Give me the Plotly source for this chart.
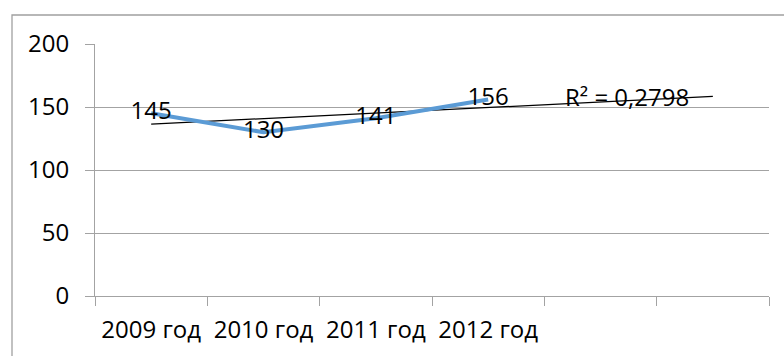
import numpy as np
import plotly.graph_objects as go

categories = ["2009 год", "2010 год", "2011 год", "2012 год"]
n_slots = 6  # category slots on the axis (two trailing empty slots)
values = [145, 130, 141, 156]
y_ticks = [0, 50, 100, 150, 200]

idx = np.arange(1, len(values) + 1)
slope, intercept = np.polyfit(idx, values, 1)
trend_idx = np.arange(1, n_slots + 1)
trend_y = slope * trend_idx + intercept
pred = slope * idx + intercept
r2 = 1 - np.sum((np.array(values) - pred) ** 2) / np.sum((np.array(values) - np.mean(values)) ** 2)
r2_text = "R² = " + f"{r2:.4f}".replace(".", ",")

FONT = "Open Sans"
FS = 24
GRID = "#A3A3A3"

fig = go.Figure()
fig.add_trace(go.Scatter(
    x=trend_idx, y=trend_y, mode="lines",
    line=dict(color="black", width=1.2), hoverinfo="skip", showlegend=False,
))
fig.add_trace(go.Scatter(
    x=idx, y=values, mode="lines+text",
    line=dict(color="#5B9BD5", width=4),
    text=[str(v) for v in values], textposition="middle center",
    textfont=dict(family=FONT, size=FS, color="black"),
    showlegend=False,
))
fig.add_annotation(
    x=5.24, y=158, xref="x", yref="y", text=r2_text, showarrow=False,
    font=dict(family=FONT, size=FS, color="black"), xanchor="center", yanchor="middle",
)

L, R, T, B = 95, 15, 44, 60
W, H = 784, 356
pw, ph = W - L - R, H - T - B
x0 = (12 - L) / pw
y1 = (H - B - 15) / ph
x1 = (W + 10 - L) / pw
y0 = -(B + 10) / ph
fig.add_shape(type="path", xref="paper", yref="paper",
              path=f"M {x0} {y0} L {x0} {y1} L {x1} {y1}",
              line=dict(color="#A0A0A0", width=1.3))

fig.update_layout(
    width=W, height=H, margin=dict(l=L, r=R, t=T, b=B, autoexpand=False),
    paper_bgcolor="white", plot_bgcolor="white",
    font=dict(family=FONT, size=FS, color="black"),
)
fig.update_xaxes(
    range=[0.5, n_slots + 0.5], tickvals=list(idx), ticktext=categories,
    ticks="", showgrid=False, showline=True, linecolor=GRID, linewidth=1,
    minor=dict(tickvals=[i + 0.5 for i in range(n_slots + 1)], ticks="outside",
               ticklen=9, tickcolor=GRID, tickwidth=1, showgrid=False),
    tickfont=dict(family=FONT, size=FS, color="black"), ticklabelstandoff=12,
    zeroline=False, fixedrange=True, automargin=False,
)
fig.update_yaxes(
    range=[0, 200], tickvals=y_ticks, ticks="outside", ticklen=9,
    tickcolor=GRID, showgrid=True, gridcolor=GRID, gridwidth=1,
    showline=True, linecolor=GRID, linewidth=1, zeroline=False,
    tickfont=dict(family=FONT, size=FS, color="black"), ticklabelstandoff=11,
    fixedrange=True, automargin=False,
)

fig.write_html("out.html")
